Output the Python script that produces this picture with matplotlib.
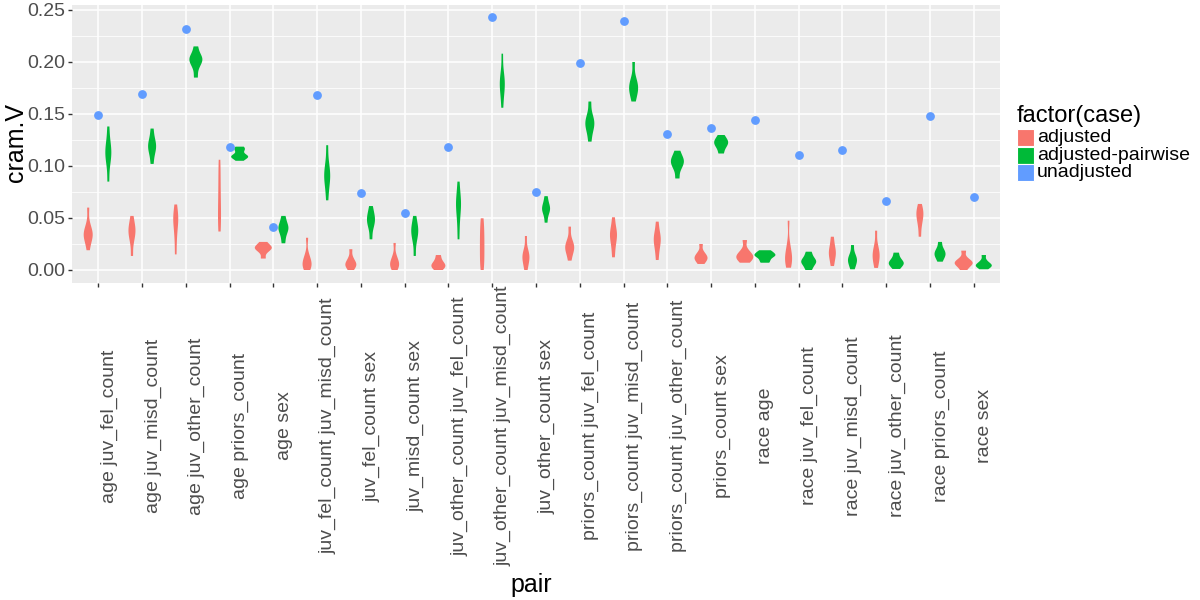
import matplotlib
matplotlib.use("Agg")
import matplotlib.pyplot as plt
from matplotlib.patches import Rectangle
import numpy as np

plt.rcParams['font.family'] = ['Liberation Sans', 'DejaVu Sans']

# -------------------------------
# Data
# -------------------------------
pairs = ["age juv_fel_count", "age juv_misd_count", "age juv_other_count",
         "age priors_count", "age sex", "juv_fel_count juv_misd_count",
         "juv_fel_count sex", "juv_misd_count sex",
         "juv_other_count juv_fel_count", "juv_other_count juv_misd_count",
         "juv_other_count sex", "priors_count juv_fel_count",
         "priors_count juv_misd_count", "priors_count juv_other_count",
         "priors_count sex", "race age", "race juv_fel_count",
         "race juv_misd_count", "race juv_other_count", "race priors_count",
         "race sex"]

unadjusted = [0.149, 0.169, 0.232, 0.118, 0.041, 0.168, 0.074, 0.055, 0.118,
              0.243, 0.075, 0.199, 0.239, 0.131, 0.137, 0.144, 0.111, 0.115,
              0.066, 0.148, 0.070]

# estimated samples behind each violin
adjusted = [
    [0.019, 0.027, 0.031, 0.034, 0.035, 0.038, 0.044, 0.060],
    [0.0135, 0.027, 0.033, 0.037, 0.040, 0.044, 0.052],
    [0.015, 0.030, 0.040, 0.047, 0.050, 0.054, 0.063],
    [0.037, 0.045, 0.055, 0.065, 0.078, 0.092, 0.106],
    [0.011, 0.017, 0.020, 0.021, 0.022, 0.024, 0.027],
    [0.0, 0.003, 0.005, 0.007, 0.010, 0.015, 0.031],
    [0.0, 0.003, 0.005, 0.006, 0.008, 0.012, 0.020],
    [0.0, 0.003, 0.005, 0.007, 0.009, 0.014, 0.026],
    [0.0, 0.002, 0.004, 0.005, 0.007, 0.010, 0.0144],
    [0.0, 0.008, 0.016, 0.024, 0.032, 0.040, 0.0497],
    [0.0, 0.006, 0.010, 0.013, 0.015, 0.020, 0.0327],
    [0.009, 0.016, 0.020, 0.022, 0.024, 0.029, 0.0417],
    [0.0122, 0.022, 0.029, 0.033, 0.036, 0.041, 0.0507],
    [0.0096, 0.019, 0.025, 0.029, 0.032, 0.037, 0.0465],
    [0.0058, 0.009, 0.011, 0.012, 0.014, 0.017, 0.025],
    [0.007, 0.010, 0.012, 0.0135, 0.015, 0.019, 0.0288],
    [0.0022, 0.007, 0.010, 0.013, 0.017, 0.025, 0.0474],
    [0.0038, 0.010, 0.014, 0.017, 0.020, 0.025, 0.032],
    [0.002, 0.008, 0.012, 0.015, 0.018, 0.024, 0.0378],
    [0.032, 0.042, 0.048, 0.052, 0.055, 0.058, 0.0635],
    [0.0, 0.004, 0.006, 0.007, 0.008, 0.011, 0.0186],
]
adjusted_w = [9, 7, 5, 3, 17, 9, 11, 9, 14, 4.5, 7, 9, 7, 7, 13, 17, 7, 7, 7, 7, 18]

pairwise = [
    [0.085, 0.102, 0.109, 0.113, 0.117, 0.124, 0.138],
    [0.102, 0.111, 0.116, 0.119, 0.122, 0.127, 0.136],
    [0.185, 0.195, 0.200, 0.202, 0.204, 0.207, 0.215],
    [0.105, 0.108, 0.109, 0.1095, 0.110, 0.115, 0.1165, 0.1186],
    [0.0257, 0.033, 0.038, 0.040, 0.042, 0.046, 0.052],
    [0.067, 0.080, 0.087, 0.091, 0.095, 0.103, 0.120],
    [0.0295, 0.040, 0.045, 0.048, 0.051, 0.055, 0.0615],
    [0.0135, 0.027, 0.033, 0.037, 0.040, 0.044, 0.052],
    [0.0295, 0.045, 0.056, 0.062, 0.066, 0.072, 0.085],
    [0.156, 0.168, 0.175, 0.179, 0.183, 0.190, 0.208],
    [0.0455, 0.053, 0.057, 0.059, 0.061, 0.065, 0.071],
    [0.1234, 0.133, 0.138, 0.141, 0.144, 0.149, 0.162],
    [0.162, 0.169, 0.173, 0.176, 0.179, 0.185, 0.200],
    [0.088, 0.097, 0.101, 0.104, 0.106, 0.109, 0.1147],
    [0.112, 0.117, 0.120, 0.122, 0.124, 0.126, 0.1298],
    [0.007, 0.010, 0.013, 0.014, 0.015, 0.017, 0.019],
    [0.0, 0.004, 0.007, 0.008, 0.010, 0.013, 0.0176],
    [0.0007, 0.005, 0.008, 0.010, 0.012, 0.016, 0.024],
    [0.001, 0.004, 0.006, 0.007, 0.009, 0.012, 0.0167],
    [0.008, 0.012, 0.014, 0.016, 0.018, 0.021, 0.027],
    [0.0007, 0.003, 0.004, 0.005, 0.006, 0.009, 0.0144],
]
pairwise_w = [6, 8, 13, 17, 10, 6, 8, 7, 5, 5, 8, 9, 9, 13, 14, 21, 15, 9, 15, 11, 16]

case_labels = ["adjusted", "adjusted-pairwise", "unadjusted"]
case_colors = ["#F8766D", "#00BA38", "#619CFF"]

# -------------------------------
# Figure
# -------------------------------
fig = plt.figure(figsize=(12, 6), dpi=100)
ax = fig.add_axes([72 / 1200, 1 - 283 / 600, 928 / 1200, 278 / 600])
ax.set_facecolor("#EBEBEB")

px = 43.8  # pixels per category
x = np.arange(len(pairs))

for data, widths, off, col in [(adjusted, adjusted_w, -0.23, case_colors[0]),
                               (pairwise, pairwise_w, 0.23, case_colors[1])]:
    parts = ax.violinplot(data, positions=x + off,
                          widths=[w / px for w in widths],
                          showextrema=False, bw_method=0.5)
    for body in parts['bodies']:
        body.set_facecolor(col)
        body.set_edgecolor("none")
        body.set_alpha(1)
        body.set_zorder(3)

ax.scatter(x, unadjusted, s=40, color=case_colors[2], zorder=4, linewidths=0)

ax.set_xlim(-0.6, len(pairs) - 0.4)
ax.set_ylim(-0.0125, 0.2548)
ax.set_yticks(np.arange(0, 0.26, 0.05))
ax.set_yticklabels([f"{v:.2f}" for v in np.arange(0, 0.26, 0.05)])
ax.set_yticks(np.arange(0.025, 0.26, 0.05), minor=True)
ax.set_xticks(x)
ax.set_xticklabels([])

ax.grid(True, which="major", color="white", lw=1.1, zorder=0)
ax.grid(True, which="minor", axis="y", color="white", lw=0.55, zorder=0)
ax.set_axisbelow(True)
for s in ax.spines.values():
    s.set_visible(False)
ax.tick_params(axis="both", which="major", color="#333333", length=3, width=1,
               pad=1.5, labelsize=14, labelcolor="#4D4D4D")
ax.tick_params(axis="y", which="minor", length=0)

# rotated pair labels, centred below the panel
for i, lab in enumerate(pairs):
    ax.text(i + 2.5 / px, (283 - 426) / 278, lab, transform=ax.get_xaxis_transform(),
            rotation=90, ha="left", va="center", fontsize=14, color="#4D4D4D")

fig.text(16 / 1200, 1 - 143 / 600, "cram.V", fontsize=18, rotation=90,
         ha="center", va="center")
fig.text(531 / 1200, 1 - 585 / 600, "pair", fontsize=18, ha="center", va="center")

# -------------------------------
# Legend
# -------------------------------
fig.text(1017 / 1200, 1 - 116 / 600, "factor(case)", fontsize=17,
         ha="left", va="center")
for i, (lab, col) in enumerate(zip(case_labels, case_colors)):
    top = 129 + i * 17.5
    fig.patches.append(Rectangle((1017 / 1200, 1 - (top + 17) / 600), 17 / 1200,
                                 17 / 600, transform=fig.transFigure,
                                 facecolor=col, edgecolor="white", lw=0.8))
    fig.text(1037 / 1200, 1 - (top + 8.5) / 600, lab, fontsize=14,
             ha="left", va="center")

plt.savefig("out.png", dpi=100)
